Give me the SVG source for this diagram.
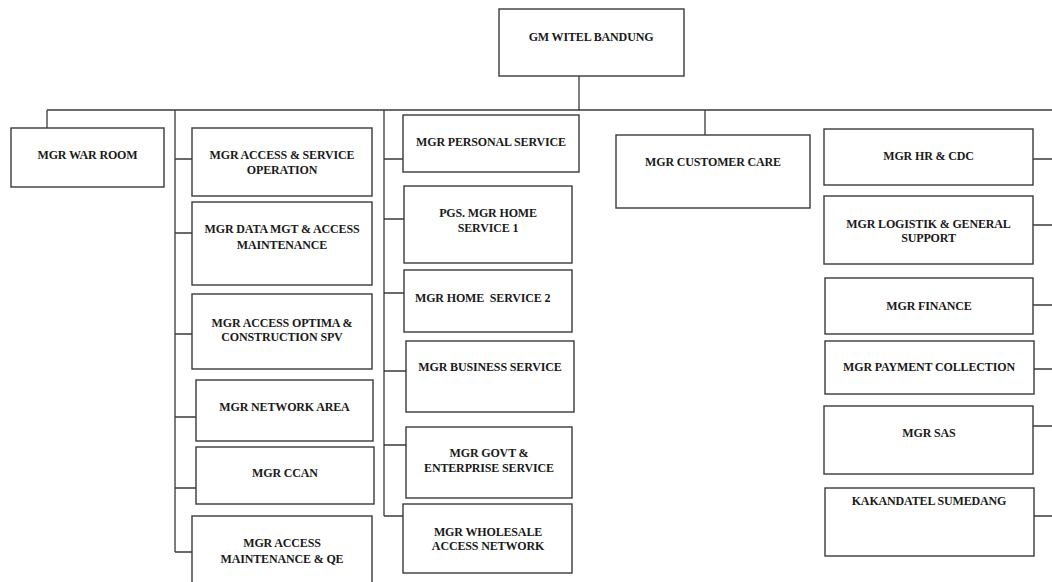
<svg xmlns="http://www.w3.org/2000/svg" width="1052" height="582" viewBox="0 0 1052 582">
<style>
.box{fill:#fff;stroke:#3a3a3a;stroke-width:1.4}
.ln{stroke:#3a3a3a;stroke-width:1.3;fill:none}
text{font-family:"Liberation Serif","Times New Roman",serif;font-weight:bold;font-size:12px;fill:#1a1a1a;text-anchor:middle;letter-spacing:-0.15px}
</style>
<rect width="1052" height="582" fill="#fff"/>
<g id="connectors">
<path class="ln" d="M579 76V110M47 110H1052M47 110V128M705 110V135"/>
<path class="ln" d="M175 110V552M175 159H192M175 233H192M175 334H192M175 417H196M175 488H196M175 552H192"/>
<path class="ln" d="M384 110V516M384 159H403M384 219H404M384 293H404M384 371H406M384 445H406M384 516H403"/>
<path class="ln" d="M1033 159H1052M1033 225H1052M1033 305H1052M1034 369H1052M1033 426H1052M1034 516H1052"/>
</g>
<g id="gm"><rect class="box" x="499" y="9" width="185" height="67"/><text x="591" y="41">GM WITEL BANDUNG</text></g>
<g id="warroom"><rect class="box" x="11" y="128" width="153" height="59"/><text x="87.5" y="159">MGR WAR ROOM</text></g>
<g id="aso"><rect class="box" x="192" y="128" width="180" height="68"/><text x="282" y="159">MGR ACCESS &amp; SERVICE</text><text x="282" y="174">OPERATION</text></g>
<g id="dmam"><rect class="box" x="192" y="202" width="180" height="83"/><text x="282" y="233">MGR DATA MGT &amp; ACCESS</text><text x="282" y="249">MAINTENANCE</text></g>
<g id="optima"><rect class="box" x="192" y="294" width="180" height="75"/><text x="282" y="327">MGR ACCESS OPTIMA &amp;</text><text x="282" y="341">CONSTRUCTION SPV</text></g>
<g id="network"><rect class="box" x="196" y="380" width="177" height="61"/><text x="284.5" y="411">MGR NETWORK AREA</text></g>
<g id="ccan"><rect class="box" x="196" y="447" width="178" height="57"/><text x="285" y="477">MGR CCAN</text></g>
<g id="amqe"><rect class="box" x="192" y="516" width="180" height="70"/><text x="282" y="547">MGR ACCESS</text><text x="282" y="563">MAINTENANCE &amp; QE</text></g>
<g id="personal"><rect class="box" x="403" y="115" width="176" height="57"/><text x="491" y="146">MGR PERSONAL SERVICE</text></g>
<g id="home1"><rect class="box" x="404" y="186" width="168" height="77"/><text x="488" y="217">PGS. MGR HOME</text><text x="488" y="232">SERVICE 1</text></g>
<g id="home2"><rect class="box" x="404" y="270" width="168" height="62"/><text x="415" y="302" style="text-anchor:start" xml:space="preserve">MGR HOME  SERVICE 2</text></g>
<g id="business"><rect class="box" x="406" y="341" width="168" height="71"/><text x="490" y="371">MGR BUSINESS SERVICE</text></g>
<g id="govt"><rect class="box" x="406" y="427" width="166" height="71"/><text x="489" y="457">MGR GOVT &amp;</text><text x="489" y="472">ENTERPRISE SERVICE</text></g>
<g id="wholesale"><rect class="box" x="403" y="504" width="169" height="69"/><text x="488" y="536">MGR WHOLESALE</text><text x="488" y="550">ACCESS NETWORK</text></g>
<g id="custcare"><rect class="box" x="616" y="135" width="194" height="73"/><text x="713" y="166">MGR CUSTOMER CARE</text></g>
<g id="hr"><rect class="box" x="824" y="129" width="209" height="56"/><text x="928.5" y="160">MGR HR &amp; CDC</text></g>
<g id="logistik"><rect class="box" x="824" y="196" width="209" height="68"/><text x="928.5" y="228">MGR LOGISTIK &amp; GENERAL</text><text x="928.5" y="242">SUPPORT</text></g>
<g id="finance"><rect class="box" x="825" y="278" width="208" height="56"/><text x="929" y="310">MGR FINANCE</text></g>
<g id="payment"><rect class="box" x="825" y="341" width="209" height="53"/><text x="929" y="371">MGR PAYMENT COLLECTION</text></g>
<g id="sas"><rect class="box" x="824" y="406" width="209" height="68"/><text x="929" y="437">MGR SAS</text></g>
<g id="kakandatel"><rect class="box" x="825" y="488" width="209" height="68"/><text x="929" y="505">KAKANDATEL SUMEDANG</text></g>
</svg>
